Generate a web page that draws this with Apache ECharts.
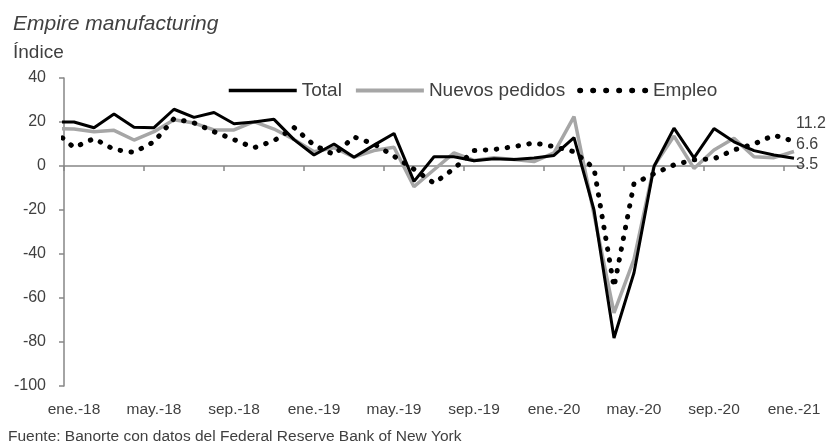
<!DOCTYPE html>
<html>
<head>
<meta charset="utf-8">
<script src="https://cdn.jsdelivr.net/npm/echarts@6/dist/echarts.min.js"></script>
<style>
  html, body { margin: 0; padding: 0; background: #fff; }
  #main { width: 827px; height: 448px; }
</style>
</head>
<body>
<div id="main"></div>
<script>
// dic-17 .. ene-21 (dic-17 queda recortado a la izquierda del eje)
var months = ['dic.-17',
  'ene.-18','feb.-18','mar.-18','abr.-18','may.-18','jun.-18','jul.-18','ago.-18','sep.-18','oct.-18','nov.-18','dic.-18',
  'ene.-19','feb.-19','mar.-19','abr.-19','may.-19','jun.-19','jul.-19','ago.-19','sep.-19','oct.-19','nov.-19','dic.-19',
  'ene.-20','feb.-20','mar.-20','abr.-20','may.-20','jun.-20','jul.-20','ago.-20','sep.-20','oct.-20','nov.-20','dic.-20',
  'ene.-21'];

var total = [20,
  20, 17.4, 23.6, 17.6, 17.4, 25.8, 22.1, 24.3, 19.2, 20, 21.2, 12,
  5, 10, 4, 9.5, 14.8, -7, 4.2, 4.2, 2.4, 3.3, 2.9, 3.6,
  4.8, 12.9, -20, -78.2, -48.5, -0.2, 17.2, 3.7, 17, 11, 7, 5,
  3.5];

var nuevosPedidos = [17,
  16.8, 15.6, 16.2, 11.8, 15.6, 21, 19.5, 16.4, 16.4, 20.2, 16.8, 12.1,
  6.5, 8.3, 4, 7, 8.5, -9.4, -1.7, 6, 2.5, 3.8, 3, 2,
  6, 22.4, -22, -66.8, -42.4, 0, 13.6, -1.1, 7.3, 12.6, 4.2, 3.8,
  6.6];

var empleo = [16,
  8.4, 12.5, 7.5, 6.2, 11, 21.5, 19.6, 15.6, 12, 8.3, 11.5, 17.5,
  9.5, 5.2, 13.2, 10, 4.5, -1.5, -7.8, -1.2, 7, 7.5, 8.8, 10.5,
  8.8, 6.5, -1, -55, -8, -3.5, 0.5, 2.8, 3.3, 7.3, 10, 14,
  11.2];

var xLabels = ['ene.-18','may.-18','sep.-18','ene.-19','may.-19','sep.-19','ene.-20','may.-20','sep.-20','ene.-21'];

var font = "'Liberation Sans', Arial, sans-serif";
var txt = '#404040';
var axisGray = '#868686';
var gray = '#a6a6a6';

// cada mes ocupa una casilla; el punto va en el centro (x = i + 0.5, dic-17 = -0.5)
function toPoints(arr) {
  return arr.map(function (v, i) { return [i - 0.5, v]; });
}

// solo el ultimo punto lleva simbolo (invisible) para poder mostrar su etiqueta
function lastLabel(arr, dy) {
  var pts = toPoints(arr);
  pts[pts.length - 1] = {
    value: pts[pts.length - 1],
    symbol: 'circle', symbolSize: 0.01,
    label: {
      show: true, position: 'right', distance: 2, offset: [0, dy],
      formatter: function (p) { return p.value[1].toFixed(1); },
      fontFamily: font, fontSize: 16, color: txt
    }
  };
  return pts;
}

var tickVals = [], labelVals = [];
for (var k = 0; k <= 36; k += 4) { tickVals.push(k); labelVals.push(k + 0.5); }

var chart = echarts.init(document.getElementById('main'));

var option = {
  animation: false,
  title: [
    { text: 'Empire manufacturing', left: 8, top: 9,
      textStyle: { fontFamily: font, fontSize: 21, fontStyle: 'italic', fontWeight: 'normal', color: txt } },
    { text: 'Índice', left: 8, top: 38,
      textStyle: { fontFamily: font, fontSize: 19, fontWeight: 'normal', color: txt } }
  ],
  graphic: [{
    type: 'text', left: 8, top: 429,
    style: { text: 'Fuente: Banorte con datos del Federal Reserve Bank of New York',
      fontFamily: font, fontSize: 15.5, fill: txt }
  }],
  legend: {
    data: [
      { name: 'Total', lineStyle: { color: '#000000', width: 3.5 } },
      { name: 'Nuevos pedidos', lineStyle: { color: gray, width: 4 } },
      { name: 'Empleo', lineStyle: { color: '#000000', width: 5.5, type: [0.5, 12.5], cap: 'round' } }
    ],
    left: 222, top: 76,
    itemWidth: 68, itemHeight: 2, itemGap: 12,
    itemStyle: { opacity: 0 },
    textStyle: { fontFamily: font, fontSize: 19, color: txt }
  },
  grid: { left: 64, top: 78, right: 23, bottom: 62 },
  xAxis: [{
    type: 'value', min: 0, max: 37,
    axisLine: { onZero: true, lineStyle: { color: axisGray, width: 1.5 } },
    axisTick: { show: true, length: 5, customValues: tickVals, lineStyle: { color: axisGray, width: 1.5 } },
    axisLabel: { show: false },
    splitLine: { show: false }
  }, {
    type: 'value', min: 0, max: 37, position: 'bottom',
    axisLine: { show: false, onZero: false },
    axisTick: { show: false },
    splitLine: { show: false },
    axisLabel: {
      customValues: labelVals, margin: 16,
      fontFamily: font, fontSize: 15.5, color: txt,
      formatter: function (v) { return xLabels[Math.round((v - 0.5) / 4)]; }
    }
  }],
  yAxis: {
    type: 'value', min: -100, max: 40, interval: 20,
    axisLine: { show: true, onZero: false, lineStyle: { color: axisGray, width: 1.5 } },
    axisTick: { show: true, length: 5, lineStyle: { color: axisGray, width: 1.5 } },
    splitLine: { show: false },
    axisLabel: { margin: 18, fontFamily: font, fontSize: 16, color: txt }
  },
  series: [{
    name: 'Total', type: 'line', symbol: 'none', clip: true,
    data: lastLabel(total, 6),
    lineStyle: { color: '#000000', width: 3 },
    itemStyle: { color: '#000000' },
    z: 4
  }, {
    name: 'Nuevos pedidos', type: 'line', symbol: 'none', clip: true,
    data: lastLabel(nuevosPedidos, -7),
    lineStyle: { color: gray, width: 3.5 },
    itemStyle: { color: gray },
    z: 3
  }, {
    name: 'Empleo', type: 'line', symbol: 'none', clip: true,
    data: lastLabel(empleo, -18),
    lineStyle: { color: '#000000', width: 5, type: [0.5, 10.5], cap: 'round' },
    itemStyle: { color: '#000000' },
    z: 5
  }]
};

chart.setOption(option);
</script>
</body>
</html>
